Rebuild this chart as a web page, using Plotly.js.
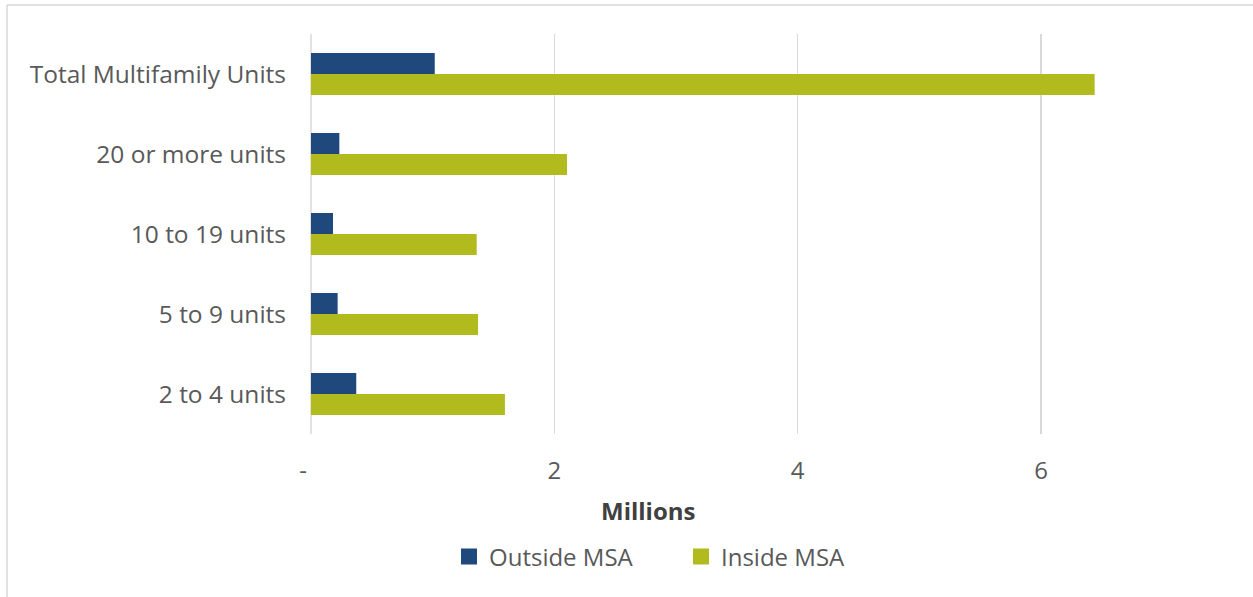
<!DOCTYPE html>
<html>
<head>
<meta charset="utf-8">
<script src="https://cdn.plot.ly/plotly-3.0.1.min.js"></script>
<style>html,body{margin:0;padding:0;background:#fff;}#chart{width:1253px;height:597px;}</style>
</head>
<body>
<div id="chart"></div>
<script>
const categories = ["Total Multifamily Units", "20 or more units", "10 to 19 units", "5 to 9 units", "2 to 4 units"];
const outsideMSA = [1.017, 0.233, 0.181, 0.219, 0.372];
const insideMSA = [6.441, 2.104, 1.362, 1.373, 1.594];
const tickVals = [0, 2, 4, 6];
const tickText = ["-\u2002\u2009", "2", "4", "6"];
const seriesNames = ["Outside MSA", "Inside MSA"];
const seriesColors = ["#1f497d", "#b2bb1e"];

const W = 1253, H = 597;
const mL = 311, mR = 0, mT = 34, mB = 163;
const pw = W - mL - mR, ph = H - mT - mB;
const px2x = p => (p - mL) / pw;
const py2y = p => (H - mB - p) / ph;

const font = "Open Sans, Noto Sans, sans-serif";
const traces = [
  {type: 'bar', orientation: 'h', name: seriesNames[0], y: categories, x: outsideMSA,
   marker: {color: seriesColors[0]}, showlegend: false},
  {type: 'bar', orientation: 'h', name: seriesNames[1], y: categories, x: insideMSA,
   marker: {color: seriesColors[1]}, showlegend: false},
  {type: 'scatter', mode: 'markers', name: seriesNames[0], x: [null], y: [null],
   marker: {symbol: 'square', size: 16, color: seriesColors[0]}},
  {type: 'scatter', mode: 'markers', name: seriesNames[1], x: [null], y: [null],
   marker: {symbol: 'square', size: 16, color: seriesColors[1]}}
];
const layout = {
  width: W, height: H,
  margin: {l: mL, r: mR, t: mT, b: mB, pad: 0},
  paper_bgcolor: '#fff', plot_bgcolor: '#fff',
  barmode: 'group', bargap: 0.475, bargroupgap: 0,
  font: {family: font, color: '#595959', size: 24},
  showlegend: true,
  legend: {orientation: 'h', x: px2x(449), xanchor: 'left', y: py2y(557), yanchor: 'middle',
           font: {size: 24, color: '#595959'}, itemwidth: 30, traceorder: 'normal',
           entrywidth: 187, entrywidthmode: 'pixels'},
  xaxis: {range: [0, (W - mL) / ((1041 - 311) / 6)], tickvals: tickVals, ticktext: tickText,
          showgrid: true, gridcolor: '#d9d9d9', gridwidth: 1.5, zeroline: false, showline: false,
          ticks: '', ticklabelstandoff: 20, tickfont: {size: 24, color: '#595959'}},
  yaxis: {autorange: 'reversed', showgrid: false, zeroline: false, showline: false, ticks: '',
          ticklabelstandoff: 24, tickfont: {size: 24.5, color: '#595959'}},
  annotations: [
    {text: '<b>Millions</b>', xref: 'paper', yref: 'paper', x: px2x(648), y: py2y(511),
     xanchor: 'center', yanchor: 'middle', showarrow: false, font: {size: 24, color: '#404040'}}
  ],
  shapes: [
    {type: 'line', xref: 'paper', yref: 'paper', x0: px2x(7), x1: px2x(1253), y0: py2y(5), y1: py2y(5),
     line: {color: '#d9d9d9', width: 1.5}},
    {type: 'line', xref: 'paper', yref: 'paper', x0: px2x(7), x1: px2x(7), y0: py2y(5), y1: py2y(597),
     line: {color: '#d9d9d9', width: 1.5}},
    {type: 'line', xref: 'paper', yref: 'paper', x0: 0, x1: 0, y0: 0, y1: 1, layer: 'below',
     line: {color: '#d9d9d9', width: 1.5}}
  ]
};
Plotly.newPlot('chart', traces, layout, {displayModeBar: false, staticPlot: true});
</script>
</body>
</html>
